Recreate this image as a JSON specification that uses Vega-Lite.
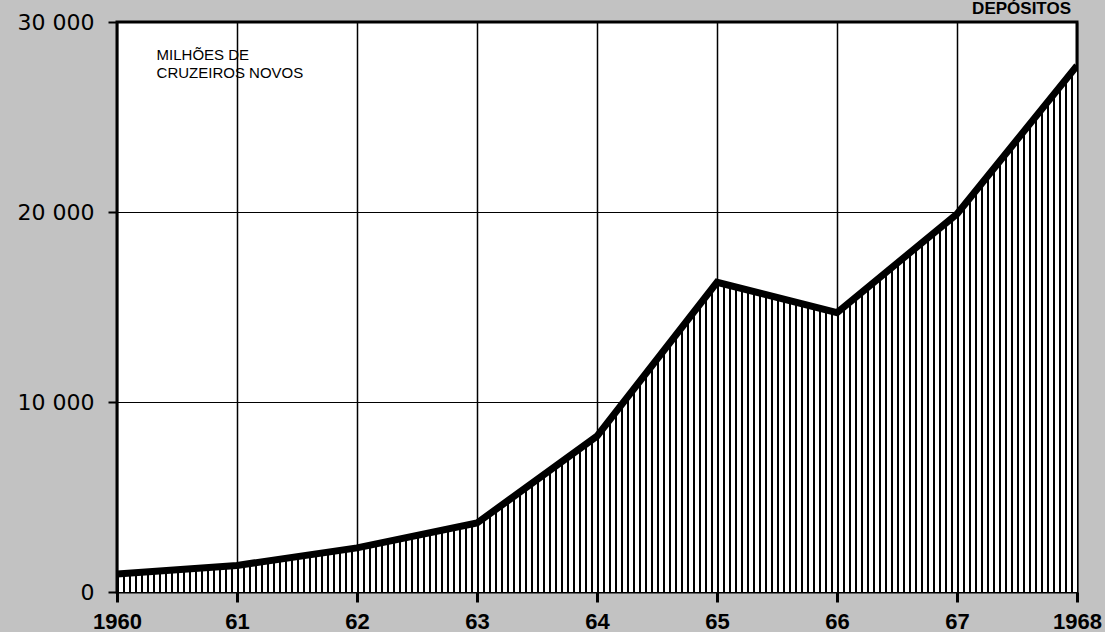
{
  "$schema": "https://vega.github.io/schema/vega-lite/v6.json",
  "width": 960,
  "height": 570,
  "autosize": "none",
  "padding": {"left": 117, "top": 22, "right": 28, "bottom": 40},
  "background": "#c2c2c2",
  "config": {
    "view": {"stroke": "#000", "strokeWidth": 3, "fill": "#ffffff"},
    "font": "Liberation Sans"
  },
  "title": {
    "text": "DEPÓSITOS",
    "anchor": "end",
    "frame": "group",
    "fontSize": 17,
    "fontWeight": "bold",
    "font": "Liberation Sans",
    "color": "#000",
    "offset": 0,
    "dy": 7,
    "dx": -6
  },
  "data": {
    "values": [
      {"year": 1960, "value": 950},
      {"year": 1961, "value": 1400},
      {"year": 1962, "value": 2320},
      {"year": 1963, "value": 3630},
      {"year": 1964, "value": 8200},
      {"year": 1965, "value": 16300},
      {"year": 1966, "value": 14700},
      {"year": 1967, "value": 19900},
      {"year": 1968, "value": 27700}
    ]
  },
  "layer": [
    {
      "mark": {
        "type": "area",
        "clip": true,
        "fill": {
          "gradient": "linear", "x1": 0, "y1": 0, "x2": 1, "y2": 0,
          "stops": [
{"offset":0,"color":"#000"},{"offset":0.002,"color":"#000"},{"offset":0.002,"color":"#fff"},{"offset":0.00625,"color":"#fff"},
{"offset":0.00625,"color":"#000"},{"offset":0.00825,"color":"#000"},{"offset":0.00825,"color":"#fff"},{"offset":0.0125,"color":"#fff"},
{"offset":0.0125,"color":"#000"},{"offset":0.0145,"color":"#000"},{"offset":0.0145,"color":"#fff"},{"offset":0.01875,"color":"#fff"},
{"offset":0.01875,"color":"#000"},{"offset":0.02075,"color":"#000"},{"offset":0.02075,"color":"#fff"},{"offset":0.025,"color":"#fff"},
{"offset":0.025,"color":"#000"},{"offset":0.027,"color":"#000"},{"offset":0.027,"color":"#fff"},{"offset":0.03125,"color":"#fff"},
{"offset":0.03125,"color":"#000"},{"offset":0.03325,"color":"#000"},{"offset":0.03325,"color":"#fff"},{"offset":0.0375,"color":"#fff"},
{"offset":0.0375,"color":"#000"},{"offset":0.0395,"color":"#000"},{"offset":0.0395,"color":"#fff"},{"offset":0.04375,"color":"#fff"},
{"offset":0.04375,"color":"#000"},{"offset":0.04575,"color":"#000"},{"offset":0.04575,"color":"#fff"},{"offset":0.05,"color":"#fff"},
{"offset":0.05,"color":"#000"},{"offset":0.052,"color":"#000"},{"offset":0.052,"color":"#fff"},{"offset":0.05625,"color":"#fff"},
{"offset":0.05625,"color":"#000"},{"offset":0.05825,"color":"#000"},{"offset":0.05825,"color":"#fff"},{"offset":0.0625,"color":"#fff"},
{"offset":0.0625,"color":"#000"},{"offset":0.0645,"color":"#000"},{"offset":0.0645,"color":"#fff"},{"offset":0.06875,"color":"#fff"},
{"offset":0.06875,"color":"#000"},{"offset":0.07075,"color":"#000"},{"offset":0.07075,"color":"#fff"},{"offset":0.075,"color":"#fff"},
{"offset":0.075,"color":"#000"},{"offset":0.077,"color":"#000"},{"offset":0.077,"color":"#fff"},{"offset":0.08125,"color":"#fff"},
{"offset":0.08125,"color":"#000"},{"offset":0.08325,"color":"#000"},{"offset":0.08325,"color":"#fff"},{"offset":0.0875,"color":"#fff"},
{"offset":0.0875,"color":"#000"},{"offset":0.0895,"color":"#000"},{"offset":0.0895,"color":"#fff"},{"offset":0.09375,"color":"#fff"},
{"offset":0.09375,"color":"#000"},{"offset":0.09575,"color":"#000"},{"offset":0.09575,"color":"#fff"},{"offset":0.1,"color":"#fff"},
{"offset":0.1,"color":"#000"},{"offset":0.102,"color":"#000"},{"offset":0.102,"color":"#fff"},{"offset":0.10625,"color":"#fff"},
{"offset":0.10625,"color":"#000"},{"offset":0.10825,"color":"#000"},{"offset":0.10825,"color":"#fff"},{"offset":0.1125,"color":"#fff"},
{"offset":0.1125,"color":"#000"},{"offset":0.1145,"color":"#000"},{"offset":0.1145,"color":"#fff"},{"offset":0.11875,"color":"#fff"},
{"offset":0.11875,"color":"#000"},{"offset":0.12075,"color":"#000"},{"offset":0.12075,"color":"#fff"},{"offset":0.125,"color":"#fff"},
{"offset":0.125,"color":"#000"},{"offset":0.127,"color":"#000"},{"offset":0.127,"color":"#fff"},{"offset":0.13125,"color":"#fff"},
{"offset":0.13125,"color":"#000"},{"offset":0.13325,"color":"#000"},{"offset":0.13325,"color":"#fff"},{"offset":0.1375,"color":"#fff"},
{"offset":0.1375,"color":"#000"},{"offset":0.1395,"color":"#000"},{"offset":0.1395,"color":"#fff"},{"offset":0.14375,"color":"#fff"},
{"offset":0.14375,"color":"#000"},{"offset":0.14575,"color":"#000"},{"offset":0.14575,"color":"#fff"},{"offset":0.15,"color":"#fff"},
{"offset":0.15,"color":"#000"},{"offset":0.152,"color":"#000"},{"offset":0.152,"color":"#fff"},{"offset":0.15625,"color":"#fff"},
{"offset":0.15625,"color":"#000"},{"offset":0.15825,"color":"#000"},{"offset":0.15825,"color":"#fff"},{"offset":0.1625,"color":"#fff"},
{"offset":0.1625,"color":"#000"},{"offset":0.1645,"color":"#000"},{"offset":0.1645,"color":"#fff"},{"offset":0.16875,"color":"#fff"},
{"offset":0.16875,"color":"#000"},{"offset":0.17075,"color":"#000"},{"offset":0.17075,"color":"#fff"},{"offset":0.175,"color":"#fff"},
{"offset":0.175,"color":"#000"},{"offset":0.177,"color":"#000"},{"offset":0.177,"color":"#fff"},{"offset":0.18125,"color":"#fff"},
{"offset":0.18125,"color":"#000"},{"offset":0.18325,"color":"#000"},{"offset":0.18325,"color":"#fff"},{"offset":0.1875,"color":"#fff"},
{"offset":0.1875,"color":"#000"},{"offset":0.1895,"color":"#000"},{"offset":0.1895,"color":"#fff"},{"offset":0.19375,"color":"#fff"},
{"offset":0.19375,"color":"#000"},{"offset":0.19575,"color":"#000"},{"offset":0.19575,"color":"#fff"},{"offset":0.2,"color":"#fff"},
{"offset":0.2,"color":"#000"},{"offset":0.202,"color":"#000"},{"offset":0.202,"color":"#fff"},{"offset":0.20625,"color":"#fff"},
{"offset":0.20625,"color":"#000"},{"offset":0.20825,"color":"#000"},{"offset":0.20825,"color":"#fff"},{"offset":0.2125,"color":"#fff"},
{"offset":0.2125,"color":"#000"},{"offset":0.2145,"color":"#000"},{"offset":0.2145,"color":"#fff"},{"offset":0.21875,"color":"#fff"},
{"offset":0.21875,"color":"#000"},{"offset":0.22075,"color":"#000"},{"offset":0.22075,"color":"#fff"},{"offset":0.225,"color":"#fff"},
{"offset":0.225,"color":"#000"},{"offset":0.227,"color":"#000"},{"offset":0.227,"color":"#fff"},{"offset":0.23125,"color":"#fff"},
{"offset":0.23125,"color":"#000"},{"offset":0.23325,"color":"#000"},{"offset":0.23325,"color":"#fff"},{"offset":0.2375,"color":"#fff"},
{"offset":0.2375,"color":"#000"},{"offset":0.2395,"color":"#000"},{"offset":0.2395,"color":"#fff"},{"offset":0.24375,"color":"#fff"},
{"offset":0.24375,"color":"#000"},{"offset":0.24575,"color":"#000"},{"offset":0.24575,"color":"#fff"},{"offset":0.25,"color":"#fff"},
{"offset":0.25,"color":"#000"},{"offset":0.252,"color":"#000"},{"offset":0.252,"color":"#fff"},{"offset":0.25625,"color":"#fff"},
{"offset":0.25625,"color":"#000"},{"offset":0.25825,"color":"#000"},{"offset":0.25825,"color":"#fff"},{"offset":0.2625,"color":"#fff"},
{"offset":0.2625,"color":"#000"},{"offset":0.2645,"color":"#000"},{"offset":0.2645,"color":"#fff"},{"offset":0.26875,"color":"#fff"},
{"offset":0.26875,"color":"#000"},{"offset":0.27075,"color":"#000"},{"offset":0.27075,"color":"#fff"},{"offset":0.275,"color":"#fff"},
{"offset":0.275,"color":"#000"},{"offset":0.277,"color":"#000"},{"offset":0.277,"color":"#fff"},{"offset":0.28125,"color":"#fff"},
{"offset":0.28125,"color":"#000"},{"offset":0.28325,"color":"#000"},{"offset":0.28325,"color":"#fff"},{"offset":0.2875,"color":"#fff"},
{"offset":0.2875,"color":"#000"},{"offset":0.2895,"color":"#000"},{"offset":0.2895,"color":"#fff"},{"offset":0.29375,"color":"#fff"},
{"offset":0.29375,"color":"#000"},{"offset":0.29575,"color":"#000"},{"offset":0.29575,"color":"#fff"},{"offset":0.3,"color":"#fff"},
{"offset":0.3,"color":"#000"},{"offset":0.302,"color":"#000"},{"offset":0.302,"color":"#fff"},{"offset":0.30625,"color":"#fff"},
{"offset":0.30625,"color":"#000"},{"offset":0.30825,"color":"#000"},{"offset":0.30825,"color":"#fff"},{"offset":0.3125,"color":"#fff"},
{"offset":0.3125,"color":"#000"},{"offset":0.3145,"color":"#000"},{"offset":0.3145,"color":"#fff"},{"offset":0.31875,"color":"#fff"},
{"offset":0.31875,"color":"#000"},{"offset":0.32075,"color":"#000"},{"offset":0.32075,"color":"#fff"},{"offset":0.325,"color":"#fff"},
{"offset":0.325,"color":"#000"},{"offset":0.327,"color":"#000"},{"offset":0.327,"color":"#fff"},{"offset":0.33125,"color":"#fff"},
{"offset":0.33125,"color":"#000"},{"offset":0.33325,"color":"#000"},{"offset":0.33325,"color":"#fff"},{"offset":0.3375,"color":"#fff"},
{"offset":0.3375,"color":"#000"},{"offset":0.3395,"color":"#000"},{"offset":0.3395,"color":"#fff"},{"offset":0.34375,"color":"#fff"},
{"offset":0.34375,"color":"#000"},{"offset":0.34575,"color":"#000"},{"offset":0.34575,"color":"#fff"},{"offset":0.35,"color":"#fff"},
{"offset":0.35,"color":"#000"},{"offset":0.352,"color":"#000"},{"offset":0.352,"color":"#fff"},{"offset":0.35625,"color":"#fff"},
{"offset":0.35625,"color":"#000"},{"offset":0.35825,"color":"#000"},{"offset":0.35825,"color":"#fff"},{"offset":0.3625,"color":"#fff"},
{"offset":0.3625,"color":"#000"},{"offset":0.3645,"color":"#000"},{"offset":0.3645,"color":"#fff"},{"offset":0.36875,"color":"#fff"},
{"offset":0.36875,"color":"#000"},{"offset":0.37075,"color":"#000"},{"offset":0.37075,"color":"#fff"},{"offset":0.375,"color":"#fff"},
{"offset":0.375,"color":"#000"},{"offset":0.377,"color":"#000"},{"offset":0.377,"color":"#fff"},{"offset":0.38125,"color":"#fff"},
{"offset":0.38125,"color":"#000"},{"offset":0.38325,"color":"#000"},{"offset":0.38325,"color":"#fff"},{"offset":0.3875,"color":"#fff"},
{"offset":0.3875,"color":"#000"},{"offset":0.3895,"color":"#000"},{"offset":0.3895,"color":"#fff"},{"offset":0.39375,"color":"#fff"},
{"offset":0.39375,"color":"#000"},{"offset":0.39575,"color":"#000"},{"offset":0.39575,"color":"#fff"},{"offset":0.4,"color":"#fff"},
{"offset":0.4,"color":"#000"},{"offset":0.402,"color":"#000"},{"offset":0.402,"color":"#fff"},{"offset":0.40625,"color":"#fff"},
{"offset":0.40625,"color":"#000"},{"offset":0.40825,"color":"#000"},{"offset":0.40825,"color":"#fff"},{"offset":0.4125,"color":"#fff"},
{"offset":0.4125,"color":"#000"},{"offset":0.4145,"color":"#000"},{"offset":0.4145,"color":"#fff"},{"offset":0.41875,"color":"#fff"},
{"offset":0.41875,"color":"#000"},{"offset":0.42075,"color":"#000"},{"offset":0.42075,"color":"#fff"},{"offset":0.425,"color":"#fff"},
{"offset":0.425,"color":"#000"},{"offset":0.427,"color":"#000"},{"offset":0.427,"color":"#fff"},{"offset":0.43125,"color":"#fff"},
{"offset":0.43125,"color":"#000"},{"offset":0.43325,"color":"#000"},{"offset":0.43325,"color":"#fff"},{"offset":0.4375,"color":"#fff"},
{"offset":0.4375,"color":"#000"},{"offset":0.4395,"color":"#000"},{"offset":0.4395,"color":"#fff"},{"offset":0.44375,"color":"#fff"},
{"offset":0.44375,"color":"#000"},{"offset":0.44575,"color":"#000"},{"offset":0.44575,"color":"#fff"},{"offset":0.45,"color":"#fff"},
{"offset":0.45,"color":"#000"},{"offset":0.452,"color":"#000"},{"offset":0.452,"color":"#fff"},{"offset":0.45625,"color":"#fff"},
{"offset":0.45625,"color":"#000"},{"offset":0.45825,"color":"#000"},{"offset":0.45825,"color":"#fff"},{"offset":0.4625,"color":"#fff"},
{"offset":0.4625,"color":"#000"},{"offset":0.4645,"color":"#000"},{"offset":0.4645,"color":"#fff"},{"offset":0.46875,"color":"#fff"},
{"offset":0.46875,"color":"#000"},{"offset":0.47075,"color":"#000"},{"offset":0.47075,"color":"#fff"},{"offset":0.475,"color":"#fff"},
{"offset":0.475,"color":"#000"},{"offset":0.477,"color":"#000"},{"offset":0.477,"color":"#fff"},{"offset":0.48125,"color":"#fff"},
{"offset":0.48125,"color":"#000"},{"offset":0.48325,"color":"#000"},{"offset":0.48325,"color":"#fff"},{"offset":0.4875,"color":"#fff"},
{"offset":0.4875,"color":"#000"},{"offset":0.4895,"color":"#000"},{"offset":0.4895,"color":"#fff"},{"offset":0.49375,"color":"#fff"},
{"offset":0.49375,"color":"#000"},{"offset":0.49575,"color":"#000"},{"offset":0.49575,"color":"#fff"},{"offset":0.5,"color":"#fff"},
{"offset":0.5,"color":"#000"},{"offset":0.502,"color":"#000"},{"offset":0.502,"color":"#fff"},{"offset":0.50625,"color":"#fff"},
{"offset":0.50625,"color":"#000"},{"offset":0.50825,"color":"#000"},{"offset":0.50825,"color":"#fff"},{"offset":0.5125,"color":"#fff"},
{"offset":0.5125,"color":"#000"},{"offset":0.5145,"color":"#000"},{"offset":0.5145,"color":"#fff"},{"offset":0.51875,"color":"#fff"},
{"offset":0.51875,"color":"#000"},{"offset":0.52075,"color":"#000"},{"offset":0.52075,"color":"#fff"},{"offset":0.525,"color":"#fff"},
{"offset":0.525,"color":"#000"},{"offset":0.527,"color":"#000"},{"offset":0.527,"color":"#fff"},{"offset":0.53125,"color":"#fff"},
{"offset":0.53125,"color":"#000"},{"offset":0.53325,"color":"#000"},{"offset":0.53325,"color":"#fff"},{"offset":0.5375,"color":"#fff"},
{"offset":0.5375,"color":"#000"},{"offset":0.5395,"color":"#000"},{"offset":0.5395,"color":"#fff"},{"offset":0.54375,"color":"#fff"},
{"offset":0.54375,"color":"#000"},{"offset":0.54575,"color":"#000"},{"offset":0.54575,"color":"#fff"},{"offset":0.55,"color":"#fff"},
{"offset":0.55,"color":"#000"},{"offset":0.552,"color":"#000"},{"offset":0.552,"color":"#fff"},{"offset":0.55625,"color":"#fff"},
{"offset":0.55625,"color":"#000"},{"offset":0.55825,"color":"#000"},{"offset":0.55825,"color":"#fff"},{"offset":0.5625,"color":"#fff"},
{"offset":0.5625,"color":"#000"},{"offset":0.5645,"color":"#000"},{"offset":0.5645,"color":"#fff"},{"offset":0.56875,"color":"#fff"},
{"offset":0.56875,"color":"#000"},{"offset":0.57075,"color":"#000"},{"offset":0.57075,"color":"#fff"},{"offset":0.575,"color":"#fff"},
{"offset":0.575,"color":"#000"},{"offset":0.577,"color":"#000"},{"offset":0.577,"color":"#fff"},{"offset":0.58125,"color":"#fff"},
{"offset":0.58125,"color":"#000"},{"offset":0.58325,"color":"#000"},{"offset":0.58325,"color":"#fff"},{"offset":0.5875,"color":"#fff"},
{"offset":0.5875,"color":"#000"},{"offset":0.5895,"color":"#000"},{"offset":0.5895,"color":"#fff"},{"offset":0.59375,"color":"#fff"},
{"offset":0.59375,"color":"#000"},{"offset":0.59575,"color":"#000"},{"offset":0.59575,"color":"#fff"},{"offset":0.6,"color":"#fff"},
{"offset":0.6,"color":"#000"},{"offset":0.602,"color":"#000"},{"offset":0.602,"color":"#fff"},{"offset":0.60625,"color":"#fff"},
{"offset":0.60625,"color":"#000"},{"offset":0.60825,"color":"#000"},{"offset":0.60825,"color":"#fff"},{"offset":0.6125,"color":"#fff"},
{"offset":0.6125,"color":"#000"},{"offset":0.6145,"color":"#000"},{"offset":0.6145,"color":"#fff"},{"offset":0.61875,"color":"#fff"},
{"offset":0.61875,"color":"#000"},{"offset":0.62075,"color":"#000"},{"offset":0.62075,"color":"#fff"},{"offset":0.625,"color":"#fff"},
{"offset":0.625,"color":"#000"},{"offset":0.627,"color":"#000"},{"offset":0.627,"color":"#fff"},{"offset":0.63125,"color":"#fff"},
{"offset":0.63125,"color":"#000"},{"offset":0.63325,"color":"#000"},{"offset":0.63325,"color":"#fff"},{"offset":0.6375,"color":"#fff"},
{"offset":0.6375,"color":"#000"},{"offset":0.6395,"color":"#000"},{"offset":0.6395,"color":"#fff"},{"offset":0.64375,"color":"#fff"},
{"offset":0.64375,"color":"#000"},{"offset":0.64575,"color":"#000"},{"offset":0.64575,"color":"#fff"},{"offset":0.65,"color":"#fff"},
{"offset":0.65,"color":"#000"},{"offset":0.652,"color":"#000"},{"offset":0.652,"color":"#fff"},{"offset":0.65625,"color":"#fff"},
{"offset":0.65625,"color":"#000"},{"offset":0.65825,"color":"#000"},{"offset":0.65825,"color":"#fff"},{"offset":0.6625,"color":"#fff"},
{"offset":0.6625,"color":"#000"},{"offset":0.6645,"color":"#000"},{"offset":0.6645,"color":"#fff"},{"offset":0.66875,"color":"#fff"},
{"offset":0.66875,"color":"#000"},{"offset":0.67075,"color":"#000"},{"offset":0.67075,"color":"#fff"},{"offset":0.675,"color":"#fff"},
{"offset":0.675,"color":"#000"},{"offset":0.677,"color":"#000"},{"offset":0.677,"color":"#fff"},{"offset":0.68125,"color":"#fff"},
{"offset":0.68125,"color":"#000"},{"offset":0.68325,"color":"#000"},{"offset":0.68325,"color":"#fff"},{"offset":0.6875,"color":"#fff"},
{"offset":0.6875,"color":"#000"},{"offset":0.6895,"color":"#000"},{"offset":0.6895,"color":"#fff"},{"offset":0.69375,"color":"#fff"},
{"offset":0.69375,"color":"#000"},{"offset":0.69575,"color":"#000"},{"offset":0.69575,"color":"#fff"},{"offset":0.7,"color":"#fff"},
{"offset":0.7,"color":"#000"},{"offset":0.702,"color":"#000"},{"offset":0.702,"color":"#fff"},{"offset":0.70625,"color":"#fff"},
{"offset":0.70625,"color":"#000"},{"offset":0.70825,"color":"#000"},{"offset":0.70825,"color":"#fff"},{"offset":0.7125,"color":"#fff"},
{"offset":0.7125,"color":"#000"},{"offset":0.7145,"color":"#000"},{"offset":0.7145,"color":"#fff"},{"offset":0.71875,"color":"#fff"},
{"offset":0.71875,"color":"#000"},{"offset":0.72075,"color":"#000"},{"offset":0.72075,"color":"#fff"},{"offset":0.725,"color":"#fff"},
{"offset":0.725,"color":"#000"},{"offset":0.727,"color":"#000"},{"offset":0.727,"color":"#fff"},{"offset":0.73125,"color":"#fff"},
{"offset":0.73125,"color":"#000"},{"offset":0.73325,"color":"#000"},{"offset":0.73325,"color":"#fff"},{"offset":0.7375,"color":"#fff"},
{"offset":0.7375,"color":"#000"},{"offset":0.7395,"color":"#000"},{"offset":0.7395,"color":"#fff"},{"offset":0.74375,"color":"#fff"},
{"offset":0.74375,"color":"#000"},{"offset":0.74575,"color":"#000"},{"offset":0.74575,"color":"#fff"},{"offset":0.75,"color":"#fff"},
{"offset":0.75,"color":"#000"},{"offset":0.752,"color":"#000"},{"offset":0.752,"color":"#fff"},{"offset":0.75625,"color":"#fff"},
{"offset":0.75625,"color":"#000"},{"offset":0.75825,"color":"#000"},{"offset":0.75825,"color":"#fff"},{"offset":0.7625,"color":"#fff"},
{"offset":0.7625,"color":"#000"},{"offset":0.7645,"color":"#000"},{"offset":0.7645,"color":"#fff"},{"offset":0.76875,"color":"#fff"},
{"offset":0.76875,"color":"#000"},{"offset":0.77075,"color":"#000"},{"offset":0.77075,"color":"#fff"},{"offset":0.775,"color":"#fff"},
{"offset":0.775,"color":"#000"},{"offset":0.777,"color":"#000"},{"offset":0.777,"color":"#fff"},{"offset":0.78125,"color":"#fff"},
{"offset":0.78125,"color":"#000"},{"offset":0.78325,"color":"#000"},{"offset":0.78325,"color":"#fff"},{"offset":0.7875,"color":"#fff"},
{"offset":0.7875,"color":"#000"},{"offset":0.7895,"color":"#000"},{"offset":0.7895,"color":"#fff"},{"offset":0.79375,"color":"#fff"},
{"offset":0.79375,"color":"#000"},{"offset":0.79575,"color":"#000"},{"offset":0.79575,"color":"#fff"},{"offset":0.8,"color":"#fff"},
{"offset":0.8,"color":"#000"},{"offset":0.802,"color":"#000"},{"offset":0.802,"color":"#fff"},{"offset":0.80625,"color":"#fff"},
{"offset":0.80625,"color":"#000"},{"offset":0.80825,"color":"#000"},{"offset":0.80825,"color":"#fff"},{"offset":0.8125,"color":"#fff"},
{"offset":0.8125,"color":"#000"},{"offset":0.8145,"color":"#000"},{"offset":0.8145,"color":"#fff"},{"offset":0.81875,"color":"#fff"},
{"offset":0.81875,"color":"#000"},{"offset":0.82075,"color":"#000"},{"offset":0.82075,"color":"#fff"},{"offset":0.825,"color":"#fff"},
{"offset":0.825,"color":"#000"},{"offset":0.827,"color":"#000"},{"offset":0.827,"color":"#fff"},{"offset":0.83125,"color":"#fff"},
{"offset":0.83125,"color":"#000"},{"offset":0.83325,"color":"#000"},{"offset":0.83325,"color":"#fff"},{"offset":0.8375,"color":"#fff"},
{"offset":0.8375,"color":"#000"},{"offset":0.8395,"color":"#000"},{"offset":0.8395,"color":"#fff"},{"offset":0.84375,"color":"#fff"},
{"offset":0.84375,"color":"#000"},{"offset":0.84575,"color":"#000"},{"offset":0.84575,"color":"#fff"},{"offset":0.85,"color":"#fff"},
{"offset":0.85,"color":"#000"},{"offset":0.852,"color":"#000"},{"offset":0.852,"color":"#fff"},{"offset":0.85625,"color":"#fff"},
{"offset":0.85625,"color":"#000"},{"offset":0.85825,"color":"#000"},{"offset":0.85825,"color":"#fff"},{"offset":0.8625,"color":"#fff"},
{"offset":0.8625,"color":"#000"},{"offset":0.8645,"color":"#000"},{"offset":0.8645,"color":"#fff"},{"offset":0.86875,"color":"#fff"},
{"offset":0.86875,"color":"#000"},{"offset":0.87075,"color":"#000"},{"offset":0.87075,"color":"#fff"},{"offset":0.875,"color":"#fff"},
{"offset":0.875,"color":"#000"},{"offset":0.877,"color":"#000"},{"offset":0.877,"color":"#fff"},{"offset":0.88125,"color":"#fff"},
{"offset":0.88125,"color":"#000"},{"offset":0.88325,"color":"#000"},{"offset":0.88325,"color":"#fff"},{"offset":0.8875,"color":"#fff"},
{"offset":0.8875,"color":"#000"},{"offset":0.8895,"color":"#000"},{"offset":0.8895,"color":"#fff"},{"offset":0.89375,"color":"#fff"},
{"offset":0.89375,"color":"#000"},{"offset":0.89575,"color":"#000"},{"offset":0.89575,"color":"#fff"},{"offset":0.9,"color":"#fff"},
{"offset":0.9,"color":"#000"},{"offset":0.902,"color":"#000"},{"offset":0.902,"color":"#fff"},{"offset":0.90625,"color":"#fff"},
{"offset":0.90625,"color":"#000"},{"offset":0.90825,"color":"#000"},{"offset":0.90825,"color":"#fff"},{"offset":0.9125,"color":"#fff"},
{"offset":0.9125,"color":"#000"},{"offset":0.9145,"color":"#000"},{"offset":0.9145,"color":"#fff"},{"offset":0.91875,"color":"#fff"},
{"offset":0.91875,"color":"#000"},{"offset":0.92075,"color":"#000"},{"offset":0.92075,"color":"#fff"},{"offset":0.925,"color":"#fff"},
{"offset":0.925,"color":"#000"},{"offset":0.927,"color":"#000"},{"offset":0.927,"color":"#fff"},{"offset":0.93125,"color":"#fff"},
{"offset":0.93125,"color":"#000"},{"offset":0.93325,"color":"#000"},{"offset":0.93325,"color":"#fff"},{"offset":0.9375,"color":"#fff"},
{"offset":0.9375,"color":"#000"},{"offset":0.9395,"color":"#000"},{"offset":0.9395,"color":"#fff"},{"offset":0.94375,"color":"#fff"},
{"offset":0.94375,"color":"#000"},{"offset":0.94575,"color":"#000"},{"offset":0.94575,"color":"#fff"},{"offset":0.95,"color":"#fff"},
{"offset":0.95,"color":"#000"},{"offset":0.952,"color":"#000"},{"offset":0.952,"color":"#fff"},{"offset":0.95625,"color":"#fff"},
{"offset":0.95625,"color":"#000"},{"offset":0.95825,"color":"#000"},{"offset":0.95825,"color":"#fff"},{"offset":0.9625,"color":"#fff"},
{"offset":0.9625,"color":"#000"},{"offset":0.9645,"color":"#000"},{"offset":0.9645,"color":"#fff"},{"offset":0.96875,"color":"#fff"},
{"offset":0.96875,"color":"#000"},{"offset":0.97075,"color":"#000"},{"offset":0.97075,"color":"#fff"},{"offset":0.975,"color":"#fff"},
{"offset":0.975,"color":"#000"},{"offset":0.977,"color":"#000"},{"offset":0.977,"color":"#fff"},{"offset":0.98125,"color":"#fff"},
{"offset":0.98125,"color":"#000"},{"offset":0.98325,"color":"#000"},{"offset":0.98325,"color":"#fff"},{"offset":0.9875,"color":"#fff"},
{"offset":0.9875,"color":"#000"},{"offset":0.9895,"color":"#000"},{"offset":0.9895,"color":"#fff"},{"offset":0.99375,"color":"#fff"},
{"offset":0.99375,"color":"#000"},{"offset":0.99575,"color":"#000"},{"offset":0.99575,"color":"#fff"},{"offset":1,"color":"#fff"}
          ]
        }
      },
      "encoding": {
        "x": {
          "field": "year",
          "type": "quantitative",
          "scale": {"domain": [1960, 1968], "nice": false, "zero": false},
          "axis": {
            "title": null,
            "values": [1960, 1961, 1962, 1963, 1964, 1965, 1966, 1967, 1968],
            "labelExpr": "datum.value == 1960 || datum.value == 1968 ? '' + datum.value : substring('' + datum.value, 2)",
            "grid": true,
            "gridColor": "#000",
            "gridWidth": 1.5,
            "gridOpacity": 1,
            "domain": false,
            "ticks": true,
            "tickColor": "#000",
            "tickSize": 10,
            "tickWidth": 3,
            "labelFont": "Liberation Sans",
            "labelFontWeight": "bold",
            "labelFontSize": 22,
            "labelColor": "#000",
            "labelPadding": 9,
            "labelFlush": false,
            "labelOverlap": false
          }
        },
        "y": {
          "field": "value",
          "type": "quantitative",
          "scale": {"domain": [0, 30000], "nice": false},
          "axis": {
            "title": null,
            "values": [0, 10000, 20000, 30000],
            "labelExpr": "replace(format(datum.value, ','), ',', ' ')",
            "grid": true,
            "gridColor": "#000",
            "gridWidth": 1.2,
            "gridOpacity": 1,
            "domain": false,
            "ticks": true,
            "tickColor": "#000",
            "tickSize": 9,
            "tickWidth": 2,
            "labelFont": "DejaVu Sans",
            "labelFontSize": 22,
            "labelColor": "#000",
            "labelPadding": 14,
            "labelFlush": false,
            "labelOverlap": false
          }
        }
      }
    },
    {
      "mark": {"type": "line", "color": "#000", "strokeWidth": 7, "clip": true, "strokeJoin": "miter"},
      "encoding": {
        "x": {"field": "year", "type": "quantitative"},
        "y": {"field": "value", "type": "quantitative"}
      }
    },
    {
      "data": {"values": [{}]},
      "mark": {"type": "text", "align": "left", "baseline": "top", "fontSize": 15, "lineHeight": 18, "font": "Liberation Sans", "color": "#000"},
      "encoding": {
        "x": {"datum": 1960.33, "type": "quantitative"},
        "y": {"datum": 28620, "type": "quantitative"},
        "text": {"value": ["MILHÕES DE", "CRUZEIROS NOVOS"]}
      }
    }
  ]
}
